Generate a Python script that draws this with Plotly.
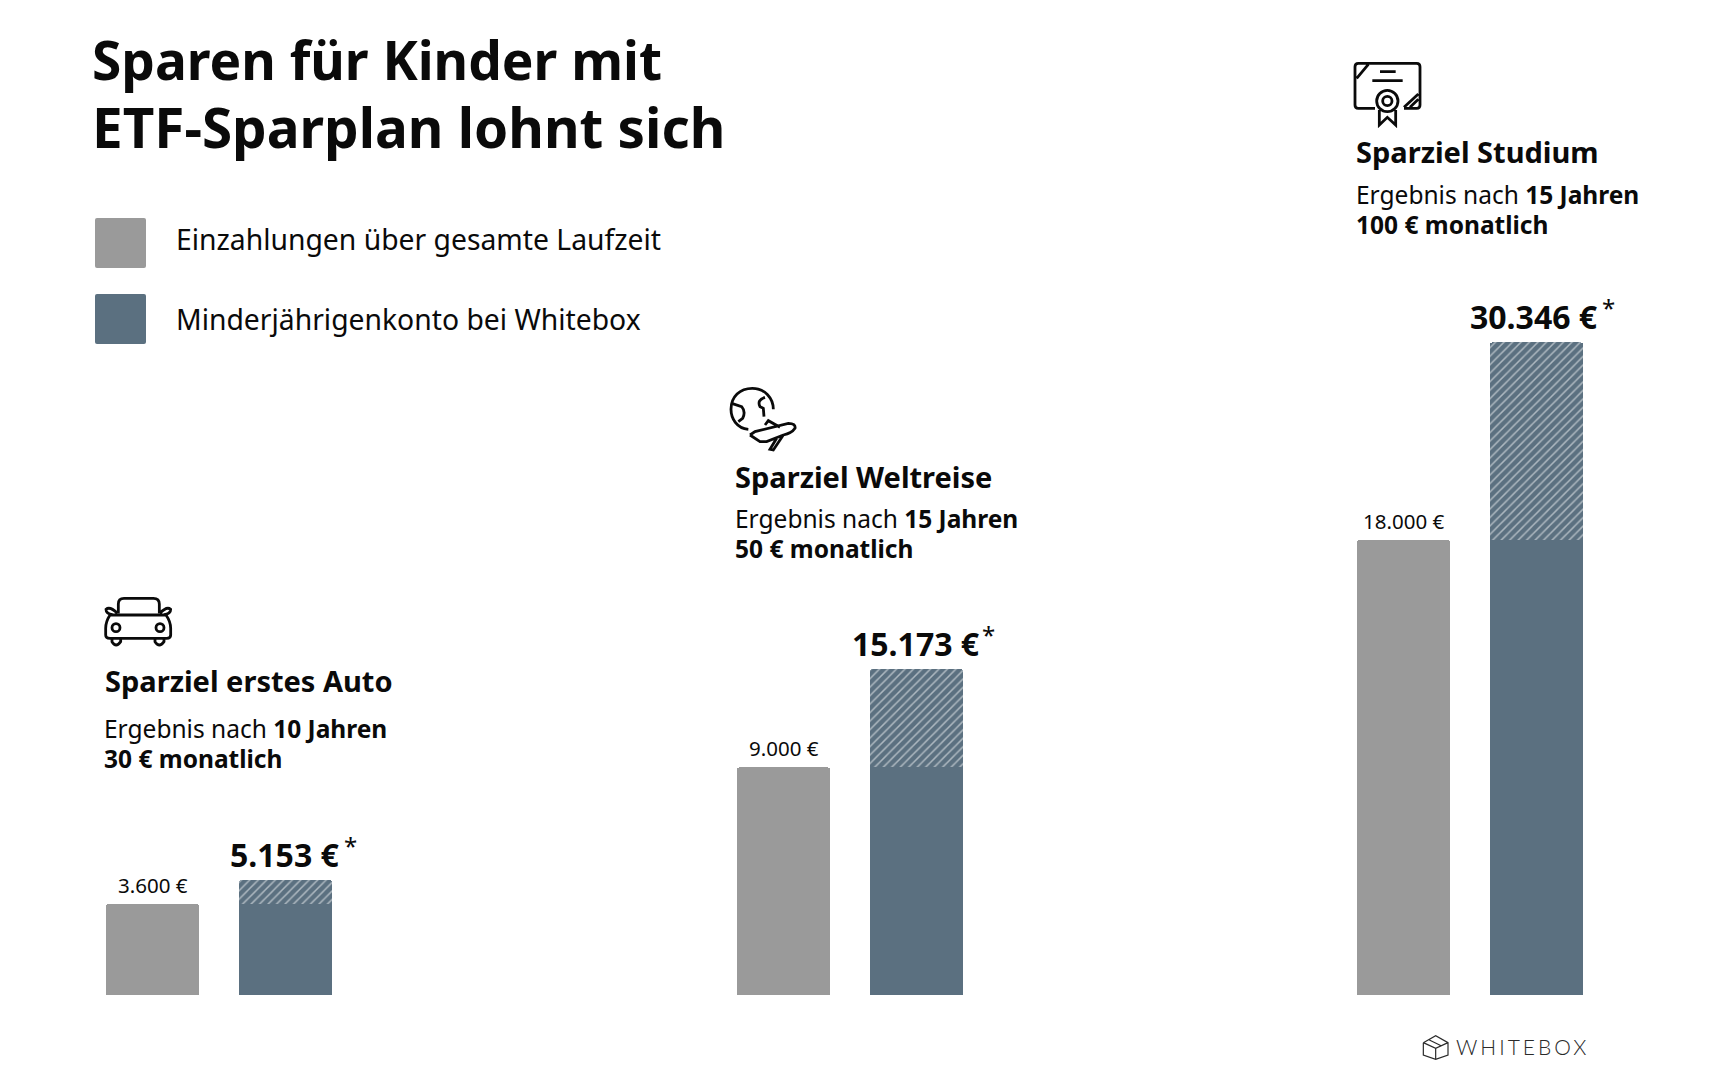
import re
import plotly.graph_objects as go

W, H = 1713, 1080
FONT = "Noto Sans"
GREY = "#9a9a9a"
BLUE = "#5b7080"

goals = ["Sparziel erstes Auto", "Sparziel Weltreise", "Sparziel Studium"]
result_lines = ["Ergebnis nach <b>10 Jahren</b>", "Ergebnis nach <b>15 Jahren</b>", "Ergebnis nach <b>15 Jahren</b>"]
monthly_lines = ["30 € monatlich", "50 € monatlich", "100 € monatlich"]
categories = ["Einzahlungen", "Whitebox"]
deposits = [3600, 9000, 18000]
# the hatched part is not to scale in the original, so heights are read off the bars
gain_heights = [950, 3890, 7800]
deposit_labels = ["3.600 €", "9.000 €", "18.000 €"]
result_labels = ["5.153 €", "15.173 €", "30.346 €"]
legend_labels = ["Einzahlungen über gesamte Laufzeit", "Minderjährigenkonto bei Whitebox"]

group_left = [86, 717, 1337]
group_width = 266
baseline_px = 995
px_per_euro = 0.0253
text_x = [(102.5, 104), (734, 734), (1355, 1355)]
title_y = [691, 487, 162]
line_y = [(738, 768), (528, 558), (204, 234)]
value_shift = [-1, -1, -3]

fig = go.Figure()
for i in range(3):
    ax = "x" if i == 0 else "x" + str(i + 1)
    fig.add_trace(go.Bar(x=[categories[0]], y=[deposits[i]], xaxis=ax, yaxis="y",
                         marker=dict(color=GREY, line=dict(width=0)), showlegend=False))
    fig.add_trace(go.Bar(x=[categories[1]], y=[deposits[i]], xaxis=ax, yaxis="y",
                         marker=dict(color=BLUE, line=dict(width=0)), showlegend=False))
    fig.add_trace(go.Bar(x=[categories[1]], y=[gain_heights[i]], xaxis=ax, yaxis="y",
                         marker=dict(color=BLUE, line=dict(width=0),
                                     pattern=dict(shape="/", size=6, solidity=0.25, fgcolor="#ffffff", bgcolor=BLUE)),
                         showlegend=False))


def label(x, y, text, size, anchor="left", color="#0a0a0a", weight=None, xref="x4", yref="y4", yshift=0, family=FONT):
    # y is the text baseline in pixels of the overlay axis
    fig.add_annotation(x=x, y=y + size * 0.293 + 1, text=text, showarrow=False, xref=xref, yref=yref, yshift=yshift,
                       xanchor=anchor, yanchor="bottom", align="left", borderpad=0,
                       font=dict(family=family, size=size, color=color, weight=weight))


def circle(cx, cy, r):
    k = r * 0.5523
    return (f"M{cx-r},{cy} C{cx-r},{cy-k} {cx-k},{cy-r} {cx},{cy-r} C{cx+k},{cy-r} {cx+r},{cy-k} {cx+r},{cy} "
            f"C{cx+r},{cy+k} {cx+k},{cy+r} {cx},{cy+r} C{cx-k},{cy+r} {cx-r},{cy+k} {cx-r},{cy} Z")


def icon(path, ox, oy, width=2.8, color="#0a0a0a", fill=None):
    # icon paths are sketched at 3x, absolute commands only
    nums = iter(re.findall(r"-?\d+\.?\d*", path))
    out = re.sub(r"-?\d+\.?\d*,-?\d+\.?\d*",
                 lambda m: f"{ox + float(next(nums)) / 3:.2f},{oy + float(next(nums)) / 3:.2f}", path)
    fig.add_shape(type="path", path=out, xref="x4", yref="y4", line=dict(color=color, width=width), fillcolor=fill)


# title and legend
label(91, 80, "<b>Sparen für Kinder mit</b>", 53.2)
label(91, 148, "<b>ETF-Sparplan lohnt sich</b>", 54.8)
swatch = "M6,0 L147,0 Q153,0 153,6 L153,144 Q153,150 147,150 L6,150 Q0,150 0,144 L0,6 Q0,0 6,0 Z"
for i, (top, color) in enumerate([(218, GREY), (294, BLUE)]):
    icon(swatch, 95, top, width=0, color=color, fill=color)
    label(175, [250, 330][i], legend_labels[i], 28.3)

# group texts
for i in range(3):
    label(text_x[i][1], title_y[i], "<b>" + goals[i] + "</b>", 29)
    label(text_x[i][0], line_y[i][0], result_lines[i], 24.5)
    label(text_x[i][0], line_y[i][1], "<b>" + monthly_lines[i] + "</b>", 24.5)
    ax = "x" if i == 0 else "x" + str(i + 1)
    fig.add_annotation(x=categories[0], y=deposits[i], xref=ax, yref="y", text=deposit_labels[i], showarrow=False,
                       yanchor="bottom", yshift=3, font=dict(family=FONT, size=20.5, color="#0a0a0a"))
    fig.add_annotation(x=categories[1], y=deposits[i] + gain_heights[i], xref=ax, yref="y", text="<b>" + result_labels[i] + "</b>",
                       showarrow=False, yanchor="bottom", yshift=2, xshift=value_shift[i], font=dict(family=FONT, size=32, color="#0a0a0a"))
    fig.add_annotation(x=categories[1], y=deposits[i] + gain_heights[i], xref=ax, yref="y", text="*", showarrow=False,
                       yanchor="bottom", yshift=16, xshift=[65, 72, 72][i], font=dict(family=FONT, size=24, color="#0a0a0a"))

# icons
car = ("M175,100 L175,72 Q175,55 192,55 L280,55 Q298,55 298,72 L298,100 "
       "M150,105 L318,105 Q332,125 332,145 L332,165 Q332,175 320,175 L150,175 Q137,175 137,165 L137,145 Q137,125 150,105 "
       "M172,100 Q150,78 138,88 Q138,102 158,104 M300,100 Q320,78 332,88 Q332,102 312,104 "
       "M156,175 L156,185 Q168,205 182,185 L182,175 M285,175 L285,185 Q298,205 312,185 L312,175 ")
car += circle(168, 143, 12) + " " + circle(300, 143, 12)
icon(car, 60, 580)
cert = ("M225,235 L175,235 Q165,235 165,225 L165,110 Q165,100 175,100 L350,100 Q360,100 360,110 L360,225 Q360,235 350,235 L312,235 "
        "M170,145 L205,103 M312,232 L355,192 M330,232 L355,208 M240,125 L287,125 M217,152 L308,152 "
        "M238,240 L238,285 L262,262 L287,285 L287,240 ")
cert += circle(262, 213, 32) + " " + circle(262, 213, 14)
icon(cert, 1300, 30)
globe = ("M85,178 C50,175 33,145 33,118 C33,80 60,55 97,55 C135,55 160,85 160,118 "
         "M35,100 L65,110 Q78,125 68,145 L55,155 M135,82 Q110,90 120,110 L130,115 L132,140 "
         "M90,195 L105,185 L205,160 Q228,160 225,175 Q215,190 190,195 L140,215 L120,215 L90,195 "
         "M135,165 L145,152 L180,172 M170,205 L150,238 L160,240 L190,195")
icon(globe, 720, 370)
cube = ("M130,248 L167,227 L204,248 L204,285 L167,298 L130,285 L130,248 M130,248 L167,265 L204,248 "
        "M167,265 L167,298 M148,240 L185,258")
icon(cube, 1380, 960, width=1.2, color="#2a2a2a")
label(1455, 1053, "WHITEBOX", 21, color="#2a2a2a", weight=300, family="Lato")

layout_axes = {}
for i in range(3):
    key = "xaxis" if i == 0 else "xaxis" + str(i + 1)
    layout_axes[key] = dict(domain=[group_left[i] / W, (group_left[i] + group_width) / W], anchor="y", type="category",
                            categoryorder="array", categoryarray=categories, range=[-0.5, 1.5], visible=False, fixedrange=True)

fig.update_layout(
    width=W, height=H, margin=dict(l=0, r=0, t=0, b=0), paper_bgcolor="white", plot_bgcolor="rgba(0,0,0,0)",
    barmode="stack", bargap=0.3, barcornerradius=3, showlegend=False,
    yaxis=dict(domain=[(H - baseline_px) / H, 1], range=[0, baseline_px / px_per_euro], visible=False, fixedrange=True),
    xaxis4=dict(domain=[0, 1], range=[0, W], visible=False, anchor="y4", fixedrange=True),
    yaxis4=dict(domain=[0, 1], range=[H, 0], visible=False, anchor="x4", fixedrange=True),
    **layout_axes,
)
# keep an invisible trace on the overlay axes so they get drawn
fig.add_trace(go.Scatter(x=[0], y=[0], xaxis="x4", yaxis="y4", mode="markers", marker=dict(opacity=0), hoverinfo="skip", showlegend=False))

post = """
document.body.style.margin = '0';
document.documentElement.style.overflow = 'hidden';
document.querySelectorAll('.annotation-text').forEach(function (t) {
  if (t.textContent === 'WHITEBOX') { t.style.letterSpacing = '3px'; }
});
"""
fig.write_html("out.html", post_script=post, config=dict(displayModeBar=False))
